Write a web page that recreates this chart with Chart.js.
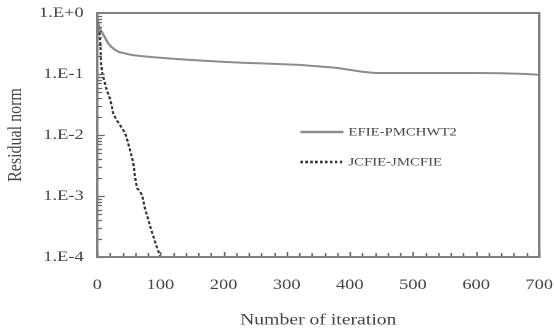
<!DOCTYPE html>
<html>
<head>
<meta charset="utf-8">
<title>Residual norm</title>
<script src="https://cdn.jsdelivr.net/npm/chart.js@4.4.1/dist/chart.umd.min.js"></script>
<style>
    html, body { margin: 0; padding: 0; background: #fff; overflow: hidden; }
    /* the figure is set with a slightly wide serif, so the canvas is stretched sideways */
    #residualChart { display: block; transform: scaleX(1.2311); transform-origin: 0 0; }
</style>
</head>
<body>
<canvas id="residualChart" width="450" height="332"></canvas>
<script>
// Series data
const seriesNames = ['EFIE-PMCHWT2', 'JCFIE-JMCFIE'];

const efieIter = [0, 2, 5, 8, 12, 17, 22, 28, 34, 42, 55, 70, 85, 100, 120, 140, 170, 200, 230, 260, 290, 320, 340, 360, 380, 400, 420, 440, 480, 520, 560, 600, 640, 680, 700];
const efieRes = [0.85, 0.66, 0.53, 0.47, 0.40, 0.32, 0.28, 0.25, 0.23, 0.22, 0.205, 0.196, 0.19, 0.185, 0.178, 0.172, 0.165, 0.158, 0.153, 0.149, 0.145, 0.141, 0.136, 0.131, 0.126, 0.117, 0.109, 0.104, 0.104, 0.104, 0.104, 0.104, 0.103, 0.1, 0.097];

const jcfieIter = [0, 3, 5, 6, 8, 10, 15, 21, 25, 30, 36, 44, 48, 52, 57, 60, 63, 67, 71, 76, 80, 84, 88, 92, 96, 100];
const jcfieRes = [0.85, 0.6, 0.3, 0.15, 0.1, 0.085, 0.055, 0.037, 0.023, 0.018, 0.0146, 0.0108, 0.008, 0.0056, 0.0035, 0.002, 0.00135, 0.0012, 0.00104, 0.00059, 0.00044, 0.00031, 0.00023, 0.00017, 0.00013, 0.0001];

// Axis ticks
const xTicks = [0, 100, 200, 300, 400, 500, 600, 700];
const xMinorStep = 20;
const yTicks = [1e-4, 1e-3, 1e-2, 1e-1, 1];
const yTickLabels = ['1.E-4', '1.E-3', '1.E-2', '1.E-1', '1.E+0'];

const serif = "'Liberation Serif', 'Times New Roman', serif";

function toPoints(xs, ys) {
    return xs.map((x, i) => ({ x: x, y: ys[i] }));
}

// Frame round the plot plus inward tick marks
const frameTicks = {
    id: 'frameTicks',
    afterDraw(chart) {
        const ctx = chart.ctx;
        const a = chart.chartArea;
        const x = chart.scales.x;
        const y = chart.scales.y;
        ctx.save();
        ctx.strokeStyle = '#666';
        ctx.lineWidth = 1.3;
        ctx.beginPath();
        for (let d = -4; d < 0; d++) {
            for (let k = 1; k <= 9; k++) {
                const py = Math.round(y.getPixelForValue(k * Math.pow(10, d))) + 0.5;
                const len = k === 1 ? 6 : 4;
                ctx.moveTo(a.left, py);
                ctx.lineTo(a.left + len, py);
            }
        }
        for (let v = x.min; v <= x.max; v += xMinorStep) {
            const px = Math.round(x.getPixelForValue(v)) + 0.5;
            const len = v % 100 === 0 ? 5 : 4;
            ctx.moveTo(px, a.bottom);
            ctx.lineTo(px, a.bottom - len);
        }
        ctx.stroke();
        ctx.lineWidth = 2;
        ctx.strokeStyle = '#808080';
        ctx.strokeRect(a.left, a.top, a.right - a.left, a.bottom - a.top);
        ctx.restore();
    }
};

// Legend drawn inside the plot, right of centre
const innerLegend = {
    id: 'innerLegend',
    afterDraw(chart) {
        const ctx = chart.ctx;
        const rows = [132, 162];
        ctx.save();
        ctx.font = '12px ' + serif;
        ctx.textBaseline = 'middle';
        ctx.fillStyle = '#444';
        chart.data.datasets.forEach((ds, i) => {
            ctx.beginPath();
            ctx.strokeStyle = ds.borderColor;
            ctx.lineWidth = 2.6;
            ctx.setLineDash(i === 0 ? [] : [2, 2]);
            ctx.moveTo(244, rows[i]);
            ctx.lineTo(279, rows[i]);
            ctx.stroke();
            ctx.setLineDash([]);
            ctx.fillText(ds.label, 283, rows[i] + 0.5);
        });
        ctx.restore();
    }
};

const ctx = document.getElementById('residualChart').getContext('2d');
const chart = new Chart(ctx, {
    type: 'line',
    data: {
        datasets: [{
            label: seriesNames[0],
            data: toPoints(efieIter, efieRes),
            borderColor: '#8c8c8c',
            borderWidth: 2,
            pointRadius: 0,
            tension: 0
        }, {
            label: seriesNames[1],
            data: toPoints(jcfieIter, jcfieRes),
            borderColor: '#333333',
            borderWidth: 1.8,
            borderDash: [3, 2],
            pointRadius: 0,
            tension: 0
        }]
    },
    options: {
        responsive: false,
        animation: false,
        devicePixelRatio: 2,
        layout: {
            padding: { top: 13, right: 12, left: 0, bottom: 0 }
        },
        plugins: {
            legend: { display: false },
            tooltip: { enabled: false }
        },
        scales: {
            x: {
                type: 'linear',
                min: 0,
                max: 700,
                afterBuildTicks: function(scale) {
                    scale.ticks = xTicks.map(v => ({ value: v }));
                },
                afterFit: function(scale) {
                    scale.height = 75;
                    scale.paddingLeft = 0;
                    scale.paddingRight = 0;
                },
                grid: { display: true, drawOnChartArea: false, drawTicks: false },
                border: { display: false },
                ticks: {
                    padding: 19,
                    maxRotation: 0,
                    color: '#444',
                    font: { family: serif, size: 15 }
                },
                title: {
                    display: true,
                    text: 'Number of iteration',
                    color: '#444',
                    font: { family: serif, size: 16 },
                    padding: { top: 0, bottom: 2 }
                }
            },
            y: {
                type: 'logarithmic',
                min: 1e-4,
                max: 1,
                afterBuildTicks: function(scale) {
                    scale.ticks = yTicks.map(v => ({ value: v }));
                },
                afterFit: function(scale) {
                    scale.width = 79;
                    scale.paddingTop = 0;
                    scale.paddingBottom = 0;
                },
                grid: { display: true, drawOnChartArea: false, drawTicks: false },
                border: { display: false },
                ticks: {
                    padding: 11,
                    color: '#444',
                    font: { family: serif, size: 15 },
                    callback: function(value, index) {
                        return yTickLabels[index];
                    }
                },
                title: {
                    display: true,
                    text: 'Residual norm',
                    color: '#444',
                    font: { family: serif, size: 16 },
                    padding: { top: 3, bottom: 0 }
                }
            }
        }
    },
    plugins: [frameTicks, innerLegend]
});
</script>
</body>
</html>
